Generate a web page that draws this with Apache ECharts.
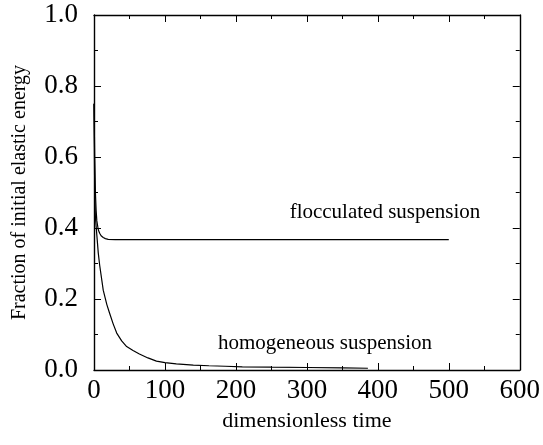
<!DOCTYPE html>
<html><head><meta charset="utf-8">
<script src="https://cdn.jsdelivr.net/npm/echarts@6/dist/echarts.min.js"></script>
<style>html,body{margin:0;padding:0;background:#fff}#c{width:543px;height:445px}</style>
</head><body><div id="c"></div>
<script>
const flocTime = [0, 1, 2, 3, 4, 6, 8, 10, 13, 16, 20, 30, 50, 100, 200, 300, 400, 500];
const flocValue = [0.75, 0.6, 0.5, 0.45, 0.42, 0.395, 0.385, 0.378, 0.373, 0.370, 0.368, 0.367, 0.367, 0.367, 0.367, 0.367, 0.367, 0.367];
const homoTime = [0, 1, 2, 4, 6, 8, 13, 18, 22, 27, 32, 39, 46, 55, 64, 76, 88, 100, 116, 140, 162, 185, 209, 250, 300, 350, 386];
const homoValue = [0.75, 0.5, 0.43, 0.38, 0.33, 0.295, 0.225, 0.185, 0.16, 0.13, 0.104, 0.082, 0.066, 0.055, 0.045, 0.034, 0.025, 0.021, 0.017, 0.014, 0.012, 0.0105, 0.009, 0.008, 0.007, 0.006, 0.005];
const xTicks = [0, 100, 200, 300, 400, 500, 600];
const yTicks = [0.0, 0.2, 0.4, 0.6, 0.8, 1.0];
const labels = { floc: 'flocculated suspension', homo: 'homogeneous suspension', x: 'dimensionless time', y: 'Fraction of initial elastic energy' };

const font = 'Liberation Serif, Times New Roman, serif';
const chart = echarts.init(document.getElementById('c'));
const axisLine = { show: true, onZero: false, lineStyle: { color: '#000', width: 1.4 } };
const tickIn = { show: true, inside: true, length: 7, lineStyle: { color: '#000', width: 1 } };
const minorIn = { show: true, splitNumber: 2, length: 4, lineStyle: { color: '#000', width: 1 } };
function mkX(pos, showLabel) {
  return {
    type: 'value', position: pos, min: xTicks[0], max: xTicks[xTicks.length - 1], interval: 100,
    axisLine, axisTick: tickIn, minorTick: minorIn, splitLine: { show: false },
    axisLabel: { show: showLabel, color: '#000', fontFamily: font, fontSize: 27, margin: 7 },
    name: showLabel ? labels.x : '', nameLocation: 'middle', nameGap: 40,
    nameTextStyle: { color: '#000', fontFamily: font, fontSize: 22 }
  };
}
function mkY(pos, showLabel) {
  return {
    type: 'value', position: pos, min: yTicks[0], max: yTicks[yTicks.length - 1], interval: 0.2,
    axisLine, axisTick: tickIn, minorTick: minorIn, splitLine: { show: false },
    axisLabel: { show: showLabel, color: '#000', fontFamily: font, fontSize: 27, margin: 16, formatter: v => v.toFixed(1) },
    name: showLabel ? labels.y : '', nameLocation: 'middle', nameGap: 64,
    nameTextStyle: { color: '#000', fontFamily: font, fontSize: 20 }
  };
}
chart.setOption({
  animation: false,
  grid: { left: 94, top: 15, right: 20, bottom: 75 },
  xAxis: [mkX('bottom', true), mkX('top', false)],
  yAxis: [mkY('left', true), mkY('right', false)],
  series: [
    { type: 'line', data: flocTime.map((t, i) => [t, flocValue[i]]), showSymbol: false, lineStyle: { color: '#000', width: 1.2 } },
    { type: 'line', data: homoTime.map((t, i) => [t, homoValue[i]]), showSymbol: false, lineStyle: { color: '#000', width: 1.2 } }
  ],
  graphic: [
    { type: 'text', x: 385, y: 212, style: { text: labels.floc, fill: '#000', font: '21px ' + font, textAlign: 'center', textVerticalAlign: 'middle' } },
    { type: 'text', x: 325, y: 343, style: { text: labels.homo, fill: '#000', font: '21px ' + font, textAlign: 'center', textVerticalAlign: 'middle' } }
  ]
});
</script></body></html>
